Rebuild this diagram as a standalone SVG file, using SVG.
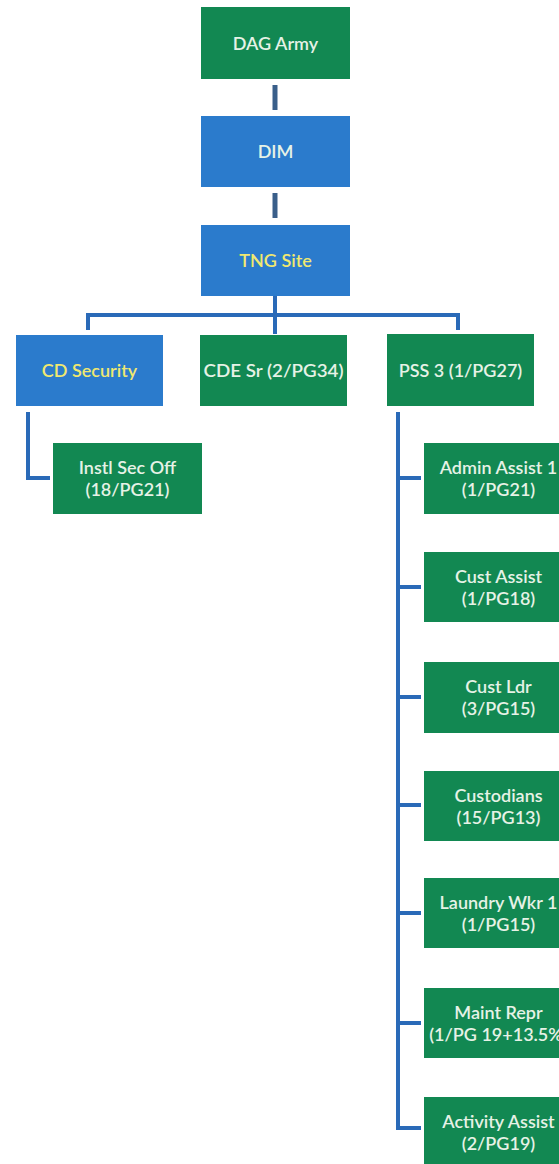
<svg xmlns="http://www.w3.org/2000/svg" width="559" height="1164" viewBox="0 0 559 1164">
<style>
.g{fill:#128852}
.b{fill:#2b7bcc}
.t{font-family:Lato,"Open Sans","Liberation Sans",sans-serif;font-size:18px;font-weight:600;fill:#e6f2e6;text-anchor:middle}
.y{fill:#f0e870}
.c{stroke:#2a6ab8;stroke-width:4;fill:none}
.d{stroke:#3a5f8a;stroke-width:5;fill:none}
</style>
<g id="connectors">
<line class="d" x1="275" y1="85" x2="275" y2="110"/>
<line class="d" x1="275" y1="193" x2="275" y2="218"/>
<path class="c" d="M275 296 V334 M88 330 V315 H458 V330"/>
<path class="c" d="M28 412 V478 H50"/>
<path class="c" d="M398 412 V1128 H421 M398 478 H421 M398 587 H421 M398 697 H421 M398 805 H421 M398 913 H421 M398 1023 H421"/>
</g>
<g id="dag"><rect class="g" x="201" y="7" width="149" height="72"/><text class="t" x="275.5" y="50">DAG Army</text></g>
<g id="dim"><rect class="b" x="201" y="116" width="149" height="71"/><text class="t" x="275.5" y="158">DIM</text></g>
<g id="tng"><rect class="b" x="201" y="225" width="149" height="71"/><text class="t y" x="275.5" y="267">TNG Site</text></g>
<g id="cdsec"><rect class="b" x="16" y="335" width="147" height="71"/><text class="t y" x="89.5" y="377">CD Security</text></g>
<g id="cdesr"><rect class="g" x="200" y="335" width="147" height="71"/><text class="t" x="273.5" y="377" textLength="140" lengthAdjust="spacingAndGlyphs">CDE Sr  (2/PG34)</text></g>
<g id="pss3"><rect class="g" x="387" y="334" width="147" height="72"/><text class="t" x="460.5" y="377">PSS 3 (1/PG27)</text></g>
<g id="instl"><rect class="g" x="53" y="443" width="149" height="71"/><text class="t" x="127.5" y="474">Instl Sec Off</text><text class="t" x="127.5" y="496">(18/PG21)</text></g>
<g id="admin"><rect class="g" x="424" y="443" width="149" height="71"/><text class="t" x="498.5" y="474">Admin Assist 1</text><text class="t" x="498.5" y="496">(1/PG21)</text></g>
<g id="custassist"><rect class="g" x="424" y="552" width="149" height="70"/><text class="t" x="498.5" y="583">Cust Assist</text><text class="t" x="498.5" y="605">(1/PG18)</text></g>
<g id="custldr"><rect class="g" x="424" y="662" width="149" height="71"/><text class="t" x="498.5" y="693">Cust Ldr</text><text class="t" x="498.5" y="715">(3/PG15)</text></g>
<g id="custodians"><rect class="g" x="424" y="771" width="149" height="70"/><text class="t" x="498.5" y="802">Custodians</text><text class="t" x="498.5" y="824">(15/PG13)</text></g>
<g id="laundry"><rect class="g" x="424" y="878" width="149" height="70"/><text class="t" x="498.5" y="909">Laundry Wkr 1</text><text class="t" x="498.5" y="931">(1/PG15)</text></g>
<g id="maint"><rect class="g" x="424" y="988" width="149" height="70"/><text class="t" x="498.5" y="1019">Maint Repr</text><text class="t" x="498.5" y="1041">(1/PG 19+13.5%)</text></g>
<g id="activity"><rect class="g" x="424" y="1097" width="149" height="70"/><text class="t" x="498.5" y="1128">Activity Assist</text><text class="t" x="498.5" y="1150">(2/PG19)</text></g>
</svg>
